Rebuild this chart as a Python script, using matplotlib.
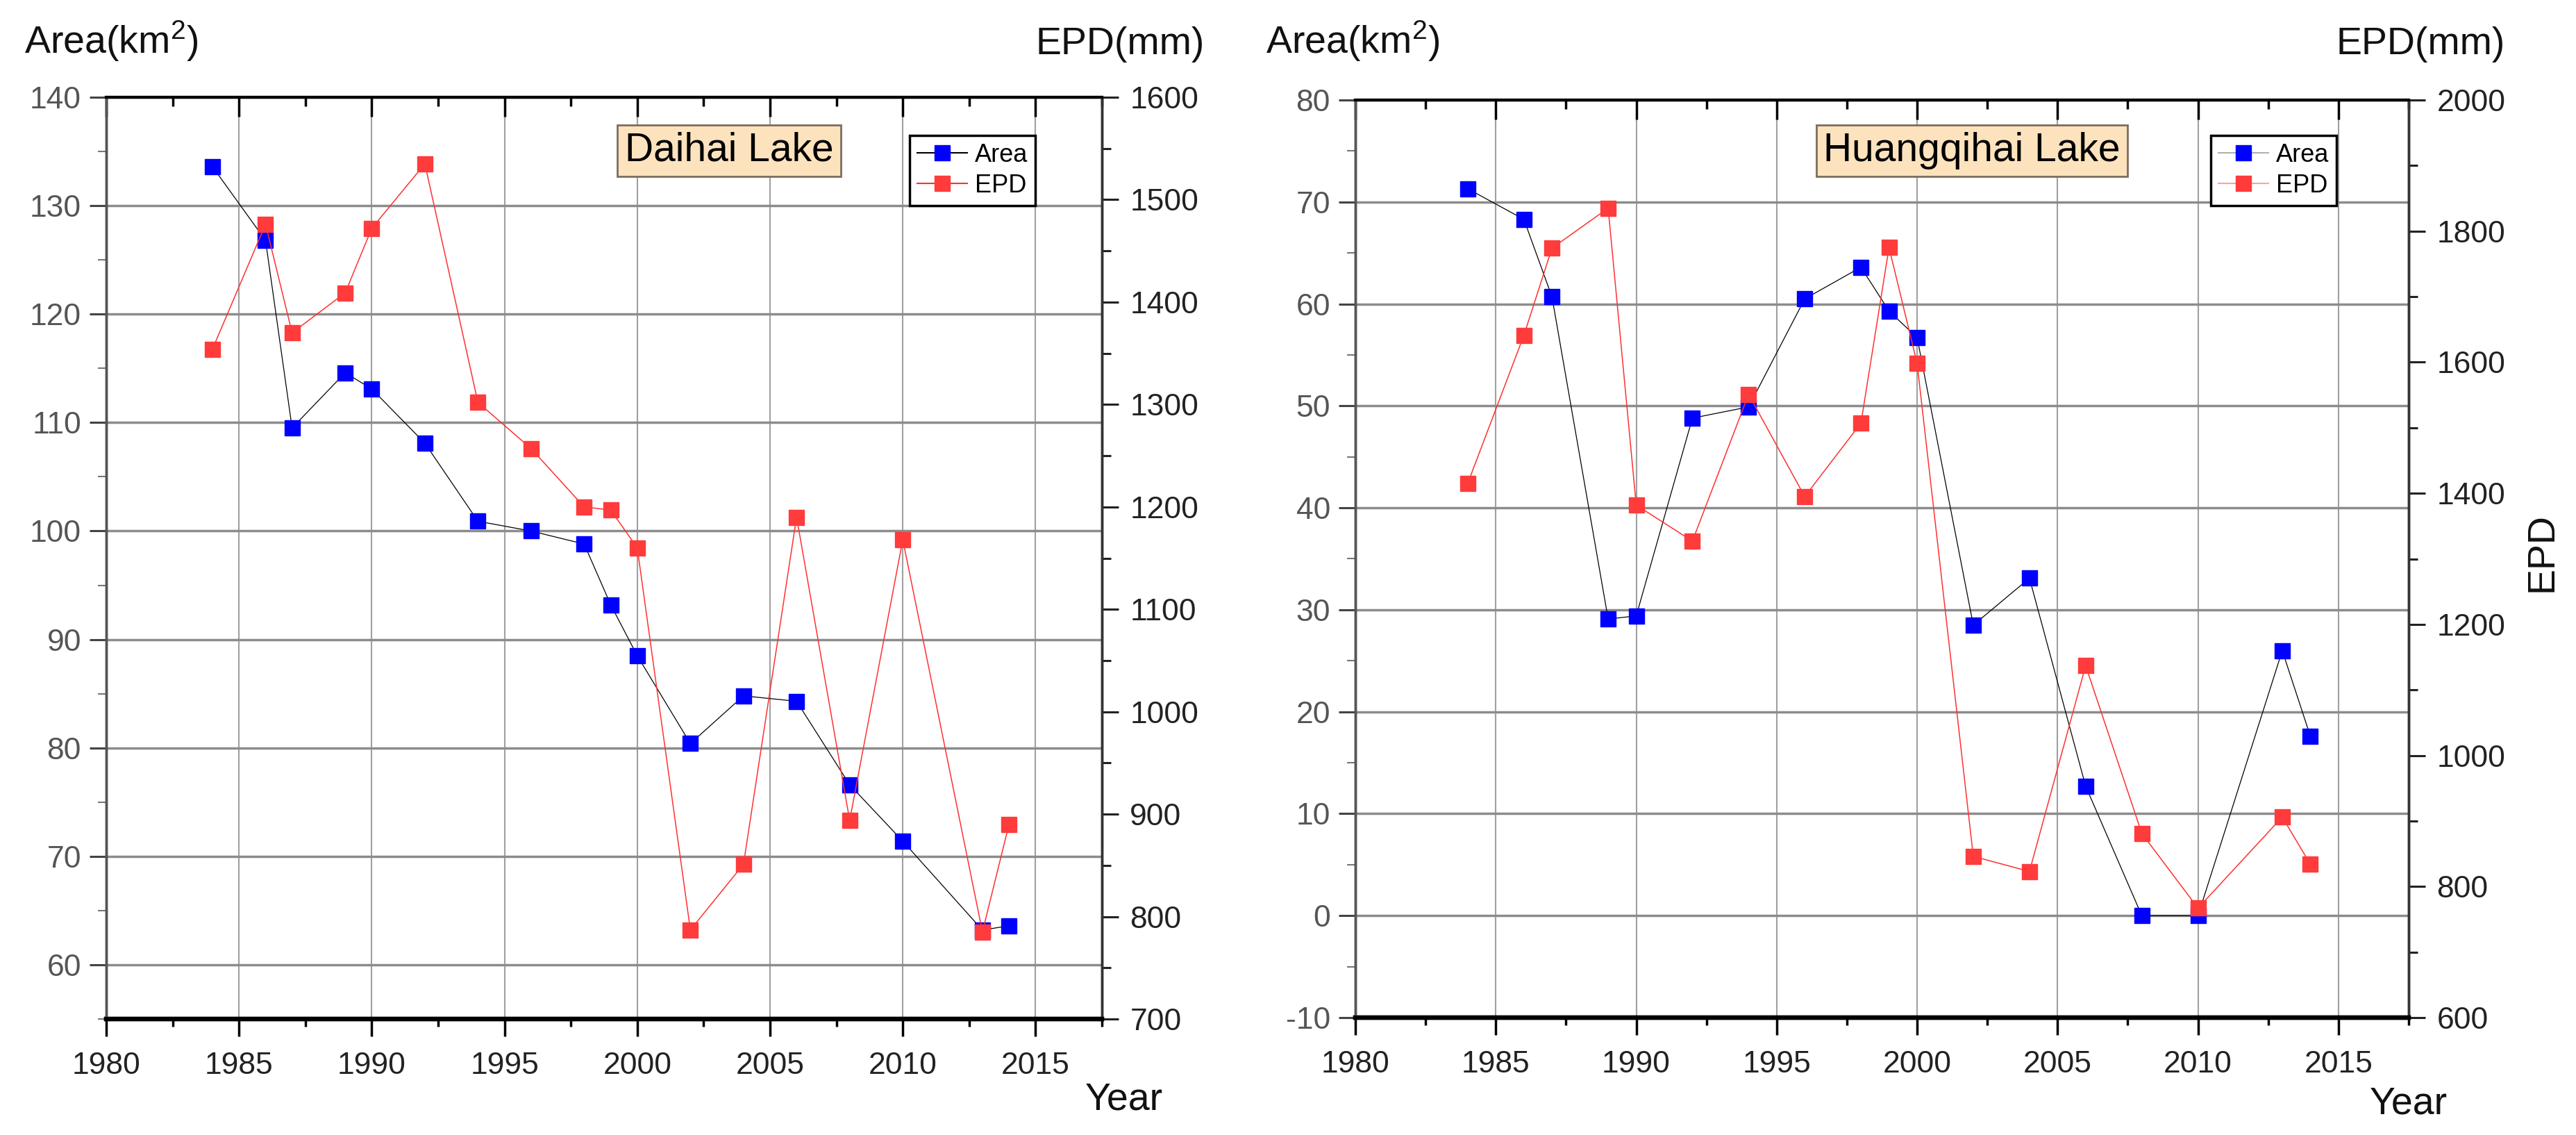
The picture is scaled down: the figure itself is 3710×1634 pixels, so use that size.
import matplotlib
matplotlib.use('Agg')
import matplotlib.pyplot as plt
from matplotlib.ticker import MultipleLocator
from matplotlib.lines import Line2D

plt.rcParams['font.family'] = ['Liberation Sans', 'DejaVu Sans']
plt.rcParams['axes.unicode_minus'] = False
plt.rcParams['mathtext.fontset'] = 'custom'
plt.rcParams['mathtext.rm'] = 'Liberation Sans'
plt.rcParams['mathtext.it'] = 'Liberation Sans'
plt.rcParams['mathtext.bf'] = 'Liberation Sans'

# ---------------- data ----------------
years = [1984, 1986, 1987, 1989, 1990, 1992, 1994, 1996, 1998, 1999,
         2000, 2002, 2004, 2006, 2008, 2010, 2013, 2014]

daihai_area = [133.6, 126.8, 109.5, 114.6, 113.1, 108.1, 100.9, 100.0, 98.8, 93.2,
               88.5, 80.4, 84.8, 84.3, 76.6, 71.4, 63.2, 63.6]
daihai_epd = [1354, 1476, 1370, 1409, 1472, 1535, 1302, 1257, 1200, 1197,
              1160, 787, 851, 1190, 894, 1168, 785, 890]

hqh_area = [71.3, 68.3, 60.7, 29.1, 29.4, 48.8, 49.9, 60.5, 63.6, 59.3,
            56.7, 28.5, 33.1, 12.7, 0.0, 0.0, 26.0, 17.6]
hqh_epd = [1415, 1641, 1774, 1835, 1382, 1327, 1551, 1395, 1507, 1775,
           1598, 846, 823, 1137, 881, 767, 906, 834]

lake_names = ["Daihai Lake", "Huangqihai Lake"]
series_labels = ["Area", "EPD"]

W, H = 3710, 1634
fig = plt.figure(figsize=(W / 100, H / 100), dpi=100)


def fx(x):
    return x / W


def fy(y):
    return 1 - y / H


def rect(x0, x1, y0, y1):
    return [x0 / W, 1 - y1 / H, (x1 - x0) / W, (y1 - y0) / H]


def panel(r, area, epd, ylim1, ylim2, y1maj, y2maj, y2min, name, box_cx,
          leg_x, light_legend):
    ax = fig.add_axes(r)
    ax2 = ax.twinx()

    ax.set_xlim(1980, 2017.5)
    ax.set_ylim(*ylim1)
    ax2.set_ylim(*ylim2)

    ax.xaxis.set_major_locator(MultipleLocator(5))
    ax.xaxis.set_minor_locator(MultipleLocator(2.5))
    ax.yaxis.set_major_locator(MultipleLocator(y1maj))
    ax.yaxis.set_minor_locator(MultipleLocator(5))
    ax2.yaxis.set_major_locator(MultipleLocator(y2maj))
    ax2.yaxis.set_minor_locator(MultipleLocator(y2min))

    ax.set_axisbelow(True)
    ax.grid(axis='x', which='major', color='#a0a0a0', lw=1.5)
    ax.grid(axis='y', which='major', color='#8c8c8c', lw=2.5)

    ax.plot(years, area, color='black', lw=0.9, marker='s', ms=16,
            mfc='#0000ff', mec='#0000ff', zorder=3)
    ax2.plot(years, epd, color='#ff3030', lw=1.1, marker='s', ms=16,
             mfc='#ff3b3b', mec='#ff3b3b', zorder=3)

    # spines
    for a in (ax, ax2):
        a.spines['bottom'].set_linewidth(4.6)
        a.spines['bottom'].set_color('black')
        a.spines['top'].set_linewidth(3)
        a.spines['top'].set_color('black')
        a.spines['left'].set_linewidth(2.5)
        a.spines['left'].set_color('#555555')
        a.spines['right'].set_linewidth(2.5)
        a.spines['right'].set_color('#333333')

    # ticks
    ax.tick_params(axis='x', which='both', bottom=True, top=False,
                   direction='out', width=2.5, colors='black',
                   labelsize=32, pad=16, labelcolor='#222222')
    ax.tick_params(axis='x', which='major', length=18)
    ax.tick_params(axis='x', which='minor', length=8)
    ax2.xaxis.set_visible(True)
    ax2.tick_params(axis='x', which='both', bottom=False, top=True,
                    labelbottom=False, labeltop=False, direction='in',
                    width=2.5, colors='black')
    ax2.tick_params(axis='x', which='major', length=20)
    ax2.tick_params(axis='x', which='minor', length=9)

    ax.tick_params(axis='y', which='both', direction='out', width=2.2,
                   colors='#444444', labelsize=32, pad=9,
                   labelcolor='#555555')
    ax.tick_params(axis='y', which='major', length=17)
    ax.tick_params(axis='y', which='minor', length=9, width=1.5,
                   colors='#777777')
    ax2.tick_params(axis='y', which='both', direction='out', width=2.2,
                    colors='#222222', labelsize=32, pad=12,
                    labelcolor='#222222')
    ax2.tick_params(axis='y', which='major', length=17)
    ax2.tick_params(axis='y', which='minor', length=9)

    # name box
    fig.text(fx(box_cx), fy(217), name, fontsize=41, ha='center', va='center',
             bbox=dict(boxstyle='square,pad=0.18', fc='#fde3bd',
                       ec='#7a6e5e', lw=2))

    # legend
    if light_legend:
        lc1, lc2 = '#b0b0b0', '#ffa0a0'
    else:
        lc1, lc2 = 'black', '#ff3030'
    handles = [Line2D([], [], color=lc1, lw=1.5, marker='s', ms=16,
                      mfc='#0000ff', mec='#0000ff'),
               Line2D([], [], color=lc2, lw=1.5, marker='s', ms=16,
                      mfc='#ff3b3b', mec='#ff3b3b')]
    leg = ax2.legend(handles, series_labels, loc='upper left',
                     bbox_to_anchor=(fx(leg_x), fy(195)),
                     bbox_transform=fig.transFigure, fontsize=26,
                     frameon=True, fancybox=False, edgecolor='black',
                     framealpha=1, handlelength=2.0, handletextpad=0.3,
                     labelspacing=0.25, borderpad=0.3, borderaxespad=0,
                     numpoints=1)
    leg.get_frame().set_linewidth(2.5)
    return ax, ax2


# left panel (Daihai)
panel(rect(153, 1587, 140, 1467), daihai_area, daihai_epd,
      (55, 140), (700, 1600), 10, 100, 50, lake_names[0], 1050, 1310, False)
# right panel (Huangqihai)
panel(rect(1952, 3469, 144, 1465), hqh_area, hqh_epd,
      (-10, 80), (600, 2000), 10, 200, 100, lake_names[1], 2840, 3184, True)

# axis titles
for xl, xr in [(35, 1735), (1823, 3608)]:
    fig.text(fx(xl), fy(77), r'Area(km$^{2}$)', fontsize=40, ha='left',
             va='baseline', color='#111111')
    fig.text(fx(xr), fy(78), 'EPD(mm)', fontsize=40, ha='right',
             va='baseline', color='#111111')
fig.text(fx(1563), fy(1598), 'Year', fontsize=40, ha='left', va='baseline',
         color='#111111')
fig.text(fx(3413), fy(1603), 'Year', fontsize=40, ha='left', va='baseline',
         color='#111111')
fig.text(fx(3635), fy(795), 'EPD', fontsize=40, rotation=90, ha='left',
         va='center', color='#111111')

fig.savefig('out.png', dpi=100)
